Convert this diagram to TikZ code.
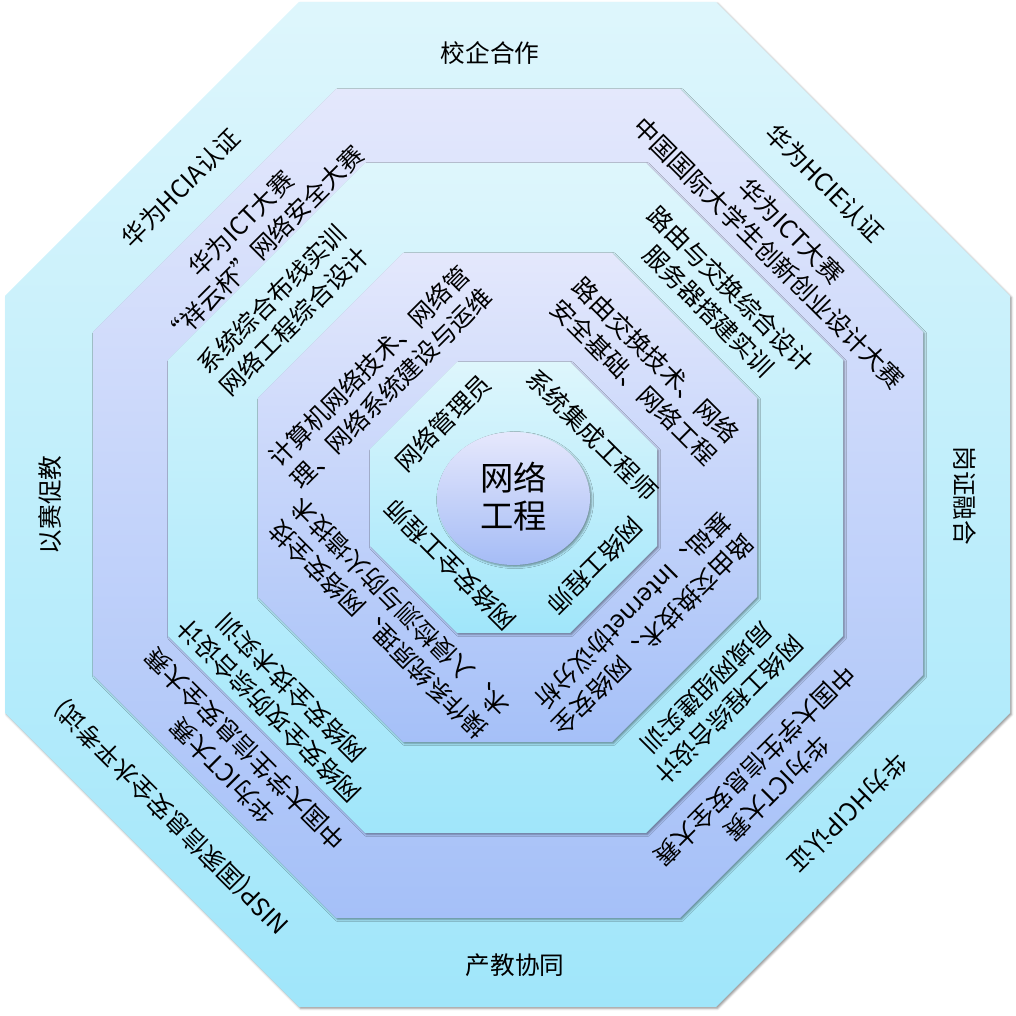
\documentclass[tikz,border=0pt]{standalone}
\usepackage{fontspec}
\setmainfont{Noto Sans CJK SC}
\usetikzlibrary{shadows.blur}
\definecolor{cyT}{RGB}{222,246,252}
\definecolor{cyB}{RGB}{160,230,250}
\definecolor{lvT}{RGB}{228,232,252}
\definecolor{lvB}{RGB}{165,192,248}
\definecolor{ciT}{RGB}{230,232,252}
\definecolor{ciB}{RGB}{165,188,246}
\tikzset{
  cyanoct/.style={top color=cyT,bottom color=cyB,draw=none,
    blur shadow={shadow xshift=1.2pt,shadow yshift=-1.2pt,shadow blur radius=1.5pt,shadow opacity=40}},
  lavoct/.style={top color=lvT,bottom color=lvB,draw=none,
    blur shadow={shadow xshift=1.2pt,shadow yshift=-1.2pt,shadow blur radius=1.5pt,shadow opacity=40}},
  lbl/.style={font=\fontsize{18.5}{23.5}\selectfont,align=center,inner sep=0pt,text=black},
  lbll/.style={lbl,align=left},
}
\begin{document}
\begin{tikzpicture}[x=0.75pt,y=0.75pt]
\useasboundingbox (0,0) rectangle (1016,1016);
% level 1
\path[cyanoct] (299,1014)--(716,1014)--(1010,720)--(1010,303)--(716,9)--(299,9)--(5,303)--(5,720)--cycle;
% level 2
\path[lavoct] (336,927)--(680,927)--(923,684)--(923,341)--(680,98)--(336,98)--(93,341)--(93,684)--cycle;
% level 3
\path[cyanoct] (365,853)--(646,853)--(843,656)--(843,380)--(646,183)--(365,183)--(168,380)--(168,656)--cycle;
% level 4
\path[lavoct] (403,763)--(612,763)--(757,618)--(757,419)--(612,274)--(403,274)--(258,419)--(258,618)--cycle;
% level 5
\path[cyanoct] (457,654)--(570,654)--(657,567)--(657,470)--(570,383)--(457,383)--(370,470)--(370,567)--cycle;
% centre
\path[top color=ciT,bottom color=ciB,
  blur shadow={shadow xshift=1.2pt,shadow yshift=-1.2pt,shadow blur radius=1.5pt,shadow opacity=40}]
  (513.5,517.5) ellipse [x radius=76.5,y radius=66.5];
\node[font=\fontsize{25}{28.5}\selectfont,align=center,inner sep=0pt] (core) at (513.5,519) {网络\\工程};

% level 1 texts
\node[lbl] (a1) at (490,963) {校企合作};
\node[lbl,rotate=-90] (a2) at (965,520) {岗证融合};
\node[lbl] (a3) at (515,51) {产教协同};
\node[lbl,rotate=90] (a4) at (50,511) {以赛促教};
\node[lbl,rotate=45] (a5) at (181,828) {华为HCIA认证};
\node[lbl,rotate=-45] (a6) at (825,833) {华为HCIE认证};
\node[lbl,rotate=-135] (a7) at (848,203) {华为HCIP认证};
\node[lbl,rotate=135] (a8) at (172,199) {NISP(国家信息安全水平考试)};

% level 2 texts
\node[lbl,rotate=45] (b1) at (252,781) {华为ICT大赛\\“祥云杯”网络安全大赛};
\node[lbl,rotate=-45] (b2) at (780,774) {华为ICT大赛\\中国国际大学生创新创业设计大赛};
\node[lbl,rotate=-135] (b3) at (766,239) {华为ICT大赛\\中国大学生信息安全大赛};
\node[lbl,rotate=135] (b4) at (234,256) {华为ICT大赛\\中国大学生信息安全大赛};

% level 3 texts
\node[lbl,rotate=45] (c1) at (283,706) {系统综合布线实训\\网络工程综合设计};
\node[lbl,rotate=-45] (c2) at (720,716) {路由与交换综合设计\\服务器搭建实训};
\node[lbl,rotate=-135] (c3) at (718,317) {网络工程综合设计\\局域网组建实训};
\node[lbl,rotate=135] (c4) at (280,316) {网络安全攻防综合设计\\网络安全技术实训};

% level 4 texts
\node[lbll,rotate=45] (d1) at (380,639) {计算机网络技术、网络管\\理、网络系统建设与运维};
\node[lbll,rotate=-45] (d2) at (645,645) {路由交换技术、网络\\安全基础、网络工程};
\node[lbll,rotate=-135] (d3) at (642,392) {路由交换技术、网络安全\\基础、Internet协议分析};
\node[lbll,rotate=135] (d4) at (389,397) {操作系统原理、网络安全技\\术、入侵检测与防火墙技术};

% level 5 texts
\node[lbl,rotate=45] (e1) at (443,593) {网络管理员};
\node[lbl,rotate=-45] (e2) at (592,581) {系统集成工程师};
\node[lbl,rotate=-135] (e3) at (595,450) {网络工程师};
\node[lbl,rotate=135] (e4) at (450,451) {网络安全工程师};
\end{tikzpicture}
\end{document}
